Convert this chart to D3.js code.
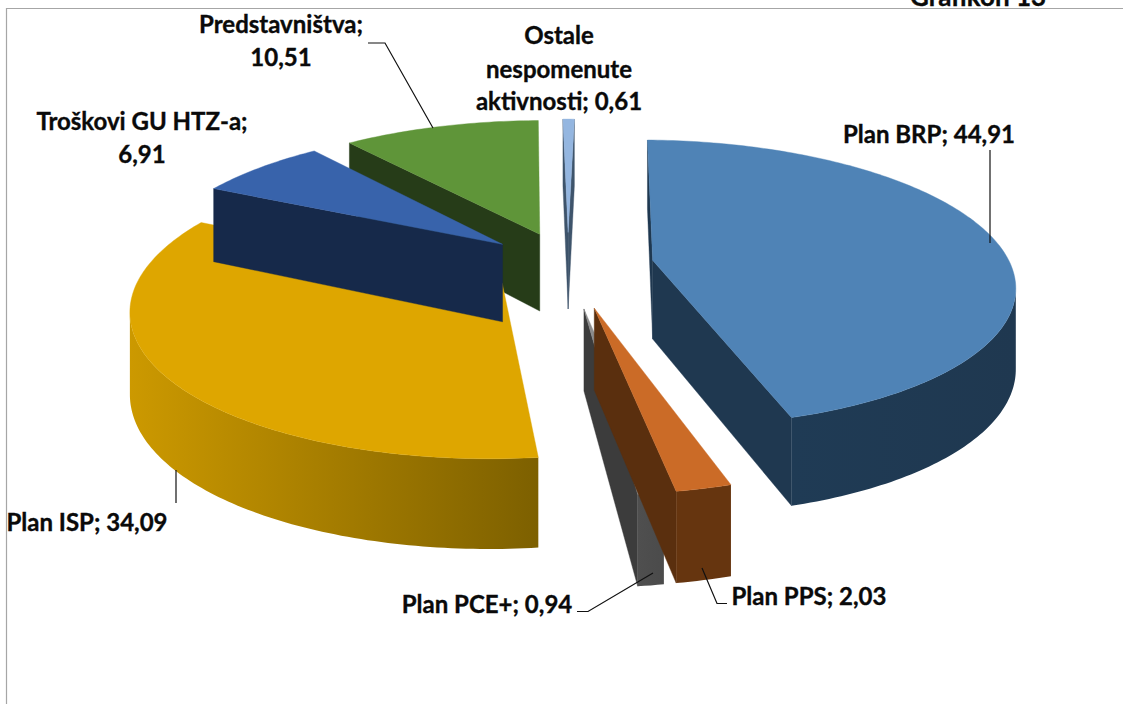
<!DOCTYPE html>
<html><head><meta charset="utf-8">
<script src="https://cdn.jsdelivr.net/npm/d3@7/dist/d3.min.js"></script>
<style>html,body{margin:0;background:#fff}svg{display:block}text{font-family:Lato,"Open Sans",sans-serif;font-weight:700;fill:#0a0a0a;stroke:#0a0a0a;stroke-width:.35;text-anchor:middle}</style>
</head><body><svg id="c" width="1123" height="704"></svg>
<script>
const categories = ["Plan BRP","Plan PPS","Plan PCE+","Plan ISP","Troškovi GU HTZ-a","Predstavništva","Ostale nespomenute aktivnosti"];
const shares = [44.91,2.03,0.94,34.09,6.91,10.51,0.61];
const shareLabels = ["44,91","2,03","0,94","34,09","6,91","10,51","0,61"];
const topColors = ["#4f83b6","#cb6b27","#8c8c8c","#dea600","#3863ab","#5f9539","#94b6e0"];
const wallColors = ["#1f3850","#5a2f0e","#3c3c3c","#7d6000","#16294a","#263c18","#3e546b"];
const rimLeft = ["#1f3b55","#66350f","#4f4f4f","#cc9900","#16294a","#263c18","#3e546b"];
const rimRight = ["#1f3850","#66350f","#4b4b4b","#7d6000","#16294a","#263c18","#3e546b"];
const explosion = [0.24,0.3,0.3,0.22,0.24,0.24,0.24];
const paintOrder = [6,5,3,4,0,2,1];

const cx=568, cy=265, A=358, B=141, p=0.16, depth0=79, depthK=10, startDeg=1.2;
const svg=d3.select("#c"), defs=svg.append("defs");
const project=(x,y,z)=>{const w=1-p*y; return [cx+x*A/w, cy+y*B/w+z*(depth0+depthK*y)];};
const arcs=d3.pie().sort(null).startAngle(startDeg*Math.PI/180).endAngle(startDeg*Math.PI/180+2*Math.PI)(shares);
const line=d3.line();
const area2=q=>d3.polygonArea(q);

svg.append("path").attr("d",line([[6.5,704],[6.5,8.5],[1123,8.5]])).attr("fill","none").attr("stroke","#a6a6a6").attr("stroke-width",1.2);

paintOrder.forEach(i=>{
  const a=arcs[i], mid=(a.startAngle+a.endAngle)/2, e=explosion[i];
  const ox=e*Math.sin(mid), oy=-e*Math.cos(mid);
  const rimAt=t=>[ox+Math.sin(t), oy-Math.cos(t)];
  const n=Math.max(3,Math.ceil((a.endAngle-a.startAngle)*60));
  const angs=d3.range(n+1).map(k=>a.startAngle+(a.endAngle-a.startAngle)*k/n);
  const rim=angs.map(rimAt), apex=[ox,oy];
  const g=svg.append("g");
  const topPoly=[apex,...rim].map(q=>project(q[0],q[1],0));
  const orient=Math.sign(area2(topPoly));
  const quad=(u,v)=>[project(u[0],u[1],0),project(v[0],v[1],0),project(v[0],v[1],1),project(u[0],u[1],1)];
  [[apex,rim[0]],[rim[n],apex]].forEach(([u,v])=>{
    const q=quad(u,v);
    if(Math.sign(area2(q))!==orient) g.append("path").attr("d",line(q)+"Z").attr("fill",wallColors[i]).attr("stroke",wallColors[i]).attr("stroke-width",.4);
  });
  const vis=[];
  for(let k=0;k<n;k++) if(Math.sign(area2(quad(rim[k],rim[k+1])))!==orient) vis.push(k);
  if(vis.length){
    const lo=vis[0], hi=vis[vis.length-1]+1;
    const pts=[...d3.range(lo,hi+1).map(k=>project(rim[k][0],rim[k][1],0)),
               ...d3.range(hi,lo-1,-1).map(k=>project(rim[k][0],rim[k][1],1))];
    const id="rim"+i, gr=defs.append("linearGradient").attr("id",id);
    gr.append("stop").attr("offset",0).attr("stop-color",rimLeft[i]);
    gr.append("stop").attr("offset",1).attr("stop-color",rimRight[i]);
    g.append("path").attr("d",line(pts)+"Z").attr("fill",`url(#${id})`);
  }
  g.append("path").attr("d",line(topPoly)+"Z").attr("fill",topColors[i]).attr("stroke",topColors[i]).attr("stroke-width",.4);
});

const leaders=[[[990,150],[990,243]],[[368,43],[385,43],[433,128]],[[176,470],[176,503]],[[577,611.5],[588,611.5],[653,573]],[[702,568],[717,603.5],[727,603.5]]];
leaders.forEach(l=>svg.append("path").attr("d",line(l)).attr("fill","none").attr("stroke","#111").attr("stroke-width",1.2));

const labelLines=[
 [`${categories[0]}; ${shareLabels[0]}`,929,143,24],
 [`${categories[1]}; ${shareLabels[1]}`,809,605,24],
 [`${categories[2]}; ${shareLabels[2]}`,487,613,24],
 [`${categories[3]}; ${shareLabels[3]}`,87,531,24],
 [`${categories[4]};`,142,130,24],[shareLabels[4],142,163,24],
 [`${categories[5]};`,281,33,24],[shareLabels[5],281,66,24],
 ["Ostale",559,44,24],["nespomenute",559,78,24],[`aktivnosti; ${shareLabels[6]}`,559,110,24],
 ["Grafikon 13",978,6,26]];
svg.selectAll("text.l").data(labelLines).join("text").attr("class","l")
 .attr("x",d=>d[1]).attr("y",d=>d[2]).attr("font-size",d=>d[3]).text(d=>d[0]);
</script></body></html>
